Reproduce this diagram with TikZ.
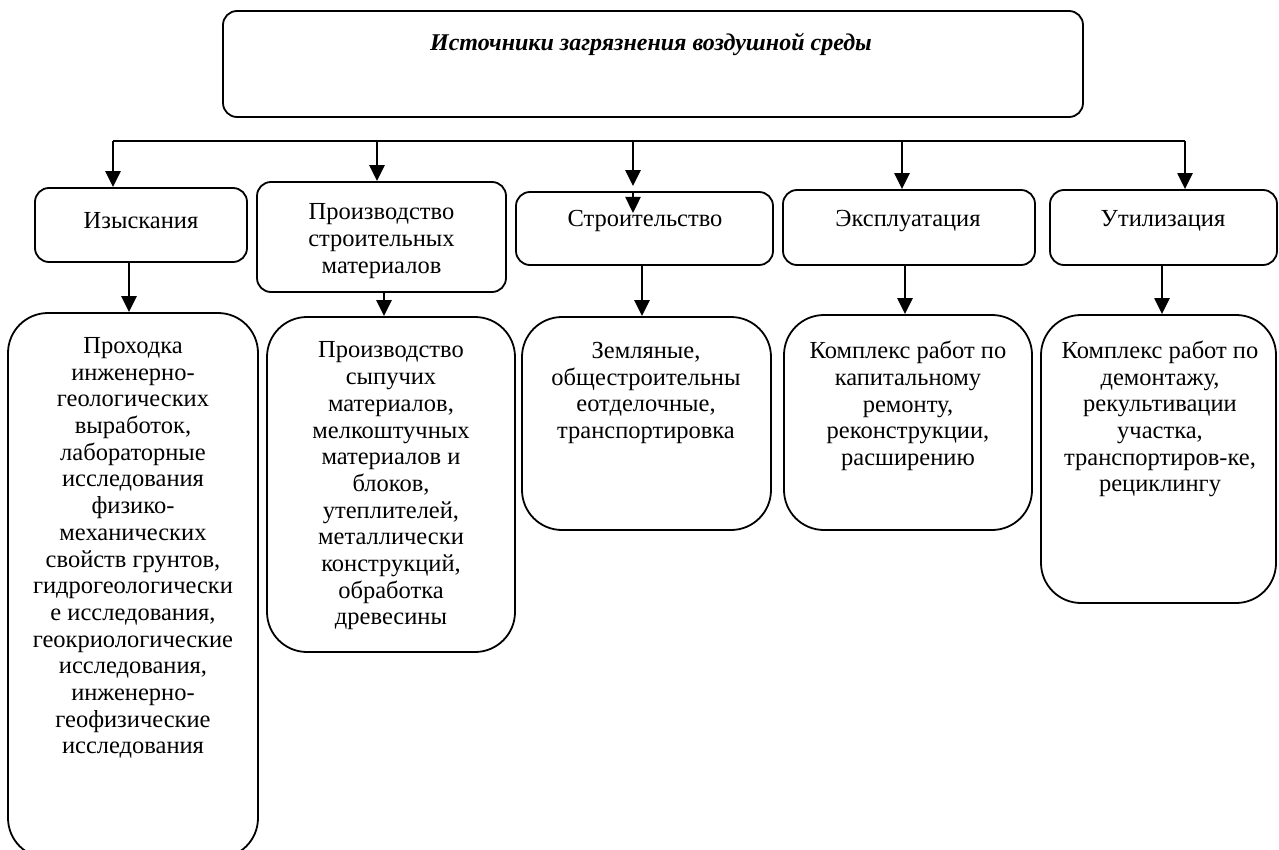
\documentclass[tikz,border=0pt]{standalone}
\usepackage{fontspec}
\setmainfont{Liberation Serif}
\usetikzlibrary{arrows.meta}
\begin{document}
\begin{tikzpicture}[x=1pt,y=-1pt,
  box/.style={draw, line width=1.8pt, rounded corners=14pt, inner sep=0pt},
  bigbox/.style={draw, line width=1.8pt, rounded corners=40pt, inner sep=0pt},
  txt/.style={align=center, font=\fontsize{24.5}{26.7}\selectfont, inner sep=0pt},
  ttl/.style={font=\fontsize{24}{26}\selectfont\bfseries\itshape, inner sep=0pt},
  arr/.style={line width=2.4pt, -{Triangle[length=16pt,width=15pt]}},
  link/.style={line width=2.2pt}]
\useasboundingbox (0,0) rectangle (1279,850);
\clip (0,0) rectangle (1279,850);
% top box
\node[box, minimum width=860pt, minimum height=106pt] (top) at (653,64) {};
\node[ttl] (ttop) at (651,44) {Источники загрязнения воздушной среды};
% upper boxes
\node[box, minimum width=212pt, minimum height=74pt] (b1) at (141,225) {};
\node[box, minimum width=249pt, minimum height=110pt] (b2) at (381.5,237) {};
\node[box, minimum width=257pt, minimum height=73pt] (b3) at (644.5,228.5) {};
\node[box, minimum width=252pt, minimum height=75pt] (b4) at (909,227.5) {};
\node[box, minimum width=227pt, minimum height=75pt] (b5) at (1163.5,227.5) {};
\node[txt] (t1) at (141,221) {Изыскания};
\node[txt] (t2) at (381.5,241) {Производство\\строительных\\материалов};
\node[txt] (t3) at (645,221) {Строительство};
\node[txt] (t4) at (908,221) {Эксплуатация};
\node[txt] (t5) at (1163,221) {Утилизация};
% lower boxes
\node[bigbox, minimum width=250pt, minimum height=545pt] (l1) at (133,585.5) {};
\node[bigbox, minimum width=248pt, minimum height=335pt] (l2) at (391,484.5) {};
\node[bigbox, minimum width=249pt, minimum height=213pt] (l3) at (646.5,423.5) {};
\node[bigbox, minimum width=248pt, minimum height=215pt] (l4) at (908,422.5) {};
\node[bigbox, minimum width=235pt, minimum height=288pt] (l5) at (1158.5,459) {};
\node[txt] (s1) at (133,548) {Проходка\\инженерно-\\геологических\\выработок,\\лабораторные\\исследования\\физико-\\механических\\свойств грунтов,\\гидрогеологически\\е исследования,\\геокриологические\\исследования,\\инженерно-\\геофизические\\исследования};
\node[txt] (s2) at (391,486) {Производство\\сыпучих\\материалов,\\мелкоштучных\\материалов и\\блоков,\\утеплителей,\\металлически\\конструкций,\\обработка\\древесины};
\node[txt] (s3) at (646,393) {Земляные,\\общестроительны\\еотделочные,\\транспортировка};
\node[txt] (s4) at (908,406) {Комплекс работ по\\капитальному\\ремонту,\\реконструкции,\\расширению};
\node[txt] (s5) at (1160,419) {Комплекс работ по\\демонтажу,\\рекультивации\\участка,\\транспортиров-ке,\\рециклингу};
% junctions on the distribution line
\coordinate (j1) at (113,141);
\coordinate (j2) at (377,141);
\coordinate (j3) at (633,141);
\coordinate (j4) at (902,141);
\coordinate (j5) at (1185,141);
\coordinate (b3in) at (633,213);
\draw[link] (j1) -- (j5);
\draw[arr] (j1) -- (j1 |- b1.north);
\draw[arr] (j2) -- (j2 |- b2.north);
\draw[arr, shorten >=5pt] (j3) -- (j3 |- b3.north);
\draw[arr] (j3 |- b3.north) -- (b3in);
\draw[arr] (j4) -- (j4 |- b4.north);
\draw[arr] (j5) -- (j5 |- b5.north);
% lower arrows
\draw[arr] ([xshift=-12pt]b1.south) -- ([xshift=-12pt]b1.south |- l1.north);
\draw[arr] ([xshift=2.5pt]b2.south) -- ([xshift=2.5pt]b2.south |- l2.north);
\draw[arr] ([xshift=-2.5pt]b3.south) -- ([xshift=-2.5pt]b3.south |- l3.north);
\draw[arr] ([xshift=-4pt]b4.south) -- ([xshift=-4pt]b4.south |- l4.north);
\draw[arr] ([xshift=-1.5pt]b5.south) -- ([xshift=-1.5pt]b5.south |- l5.north);
\end{tikzpicture}
\end{document}
